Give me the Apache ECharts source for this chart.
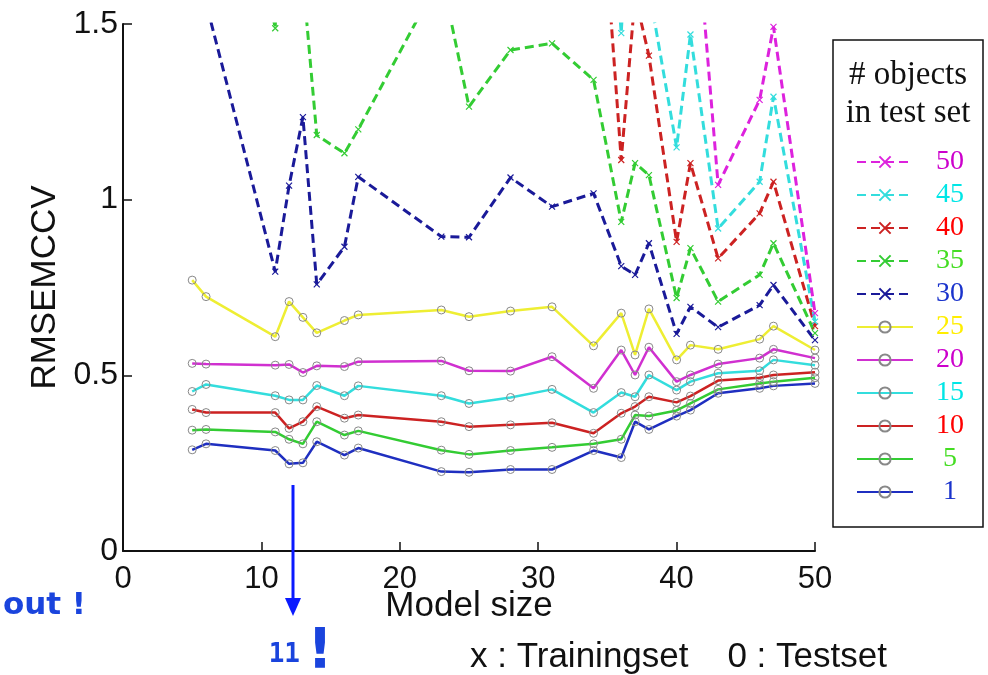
<!DOCTYPE html>
<html><head><meta charset="utf-8">
<script src="https://cdn.jsdelivr.net/npm/echarts@6/dist/echarts.min.js"></script>
<style>html,body{margin:0;padding:0;background:#fff}#c{width:988px;height:675px}</style>
</head><body><div id="c"></div>
<script>
// x: model size
const modelSize = [5,6,11,12,13,14,16,17,23,25,28,31,34,36,37,38,40,41,43,46,47,50];
// Testset curves (solid, circles)
const test1  = [0.288,0.305,0.286,0.248,0.251,0.311,0.273,0.293,0.226,0.224,0.232,0.232,0.286,0.266,0.368,0.346,0.384,0.401,0.449,0.463,0.470,0.477];
const test5  = [0.344,0.346,0.339,0.318,0.305,0.368,0.330,0.342,0.287,0.275,0.286,0.295,0.305,0.318,0.387,0.384,0.400,0.420,0.460,0.477,0.482,0.493];
const test10 = [0.403,0.394,0.394,0.349,0.368,0.411,0.378,0.387,0.368,0.354,0.359,0.365,0.335,0.392,0.411,0.439,0.423,0.441,0.485,0.493,0.501,0.509];
const test15 = [0.454,0.474,0.442,0.430,0.430,0.471,0.442,0.470,0.442,0.420,0.437,0.460,0.394,0.451,0.439,0.501,0.458,0.482,0.506,0.513,0.544,0.529];
const test20 = [0.534,0.532,0.529,0.531,0.508,0.527,0.525,0.539,0.541,0.513,0.512,0.553,0.463,0.572,0.501,0.580,0.482,0.501,0.532,0.549,0.574,0.549];
const test25 = [0.771,0.724,0.610,0.710,0.665,0.621,0.656,0.672,0.686,0.667,0.683,0.695,0.584,0.677,0.558,0.689,0.544,0.586,0.574,0.603,0.640,0.572];
// Trainingset curves (dashed, crosses); values above 1.5 run off the top of the plot
const train30 = [1.90,1.56,0.795,1.04,1.235,0.759,0.866,1.065,0.895,0.893,1.063,0.980,1.018,0.811,0.786,0.876,0.618,0.695,0.637,0.700,0.757,0.600];
const train35 = [null,2.50,1.488,3.00,1.63,1.184,1.132,1.20,1.64,1.265,1.426,1.445,1.341,0.937,1.104,1.070,0.720,0.862,0.710,0.786,0.876,0.620];
const train40 = [null,null,null,null,null,null,null,null,null,null,null,null,2.20,1.113,1.58,1.41,0.880,1.104,0.833,0.961,1.051,0.640];
const train45 = [null,null,null,null,null,null,null,null,null,null,null,null,2.50,1.474,2.20,1.60,1.149,1.470,0.918,1.051,1.293,0.653];
const train50 = [null,null,null,null,null,null,null,null,null,null,null,null,null,null,null,null,null,2.00,1.042,1.284,1.492,0.677];
// legend
const legendNames = ['50','45','40','35','30','25','20','15','10','5','1'];
const legendTextColors = {'50':'#cc00cc','45':'#00e6e6','40':'#ff0000','35':'#44dd22','30':'#1a33cc','25':'#ffee00','20':'#cc00cc','15':'#00e6e6','10':'#ff0000','5':'#44dd22','1':'#1a33cc'};
const xTicks = [0,10,20,30,40,50];
const yTicks = [0,0.5,1,1.5];

const solidDefs = [
  {name:'1', data:test1, color:'#1f2fc0'},
  {name:'5', data:test5, color:'#33cc33'},
  {name:'10', data:test10, color:'#cc2222'},
  {name:'15', data:test15, color:'#33dddd'},
  {name:'20', data:test20, color:'#d030d0'},
  {name:'25', data:test25, color:'#eeee33'}
];
const dashDefs = [
  {name:'30', data:train30, color:'#1a1a99'},
  {name:'35', data:train35, color:'#33cc33'},
  {name:'40', data:train40, color:'#cc2222'},
  {name:'45', data:train45, color:'#33dddd'},
  {name:'50', data:train50, color:'#dd22dd'}
];
const toPairs = arr => modelSize.map((x,i)=>[x, arr[i]]);
const series = [];
solidDefs.forEach(d=>series.push({
  name:d.name, type:'line', data:toPairs(d.data), color:d.color,
  symbol:'circle', symbolSize:8, showAllSymbol:true,
  lineStyle:{color:d.color, width:2.5, type:'solid'},
  itemStyle:{color:'rgba(0,0,0,0)', borderColor:'#888', borderWidth:1},
  emphasis:{disabled:true}, clip:true, z:2
}));
dashDefs.forEach(d=>series.push({
  name:d.name, type:'line', data:toPairs(d.data), color:d.color,
  symbol:'path://M0,0L10,10M10,0L0,10', symbolSize:6, showAllSymbol:true,
  lineStyle:{color:d.color, width:3, type:[9,5]},
  itemStyle:{color:'rgba(0,0,0,0)', borderColor:d.color, borderWidth:1.2},
  emphasis:{disabled:true}, clip:true, connectNulls:false, z:3
}));

const chart = echarts.init(document.getElementById('c'), null, {renderer:'canvas'});
chart.setOption({
  animation:false,
  backgroundColor:'#fff',
  grid:{left:123, right:173, top:24, bottom:124, containLabel:false},
  xAxis:{type:'value', min:xTicks[0], max:xTicks[xTicks.length-1], interval:10,
    name:'Model size', nameLocation:'middle', nameGap:38, nameMoveOverlap:false,
    nameTextStyle:{fontFamily:'Liberation Sans, Arial, sans-serif', fontSize:35, color:'#111'},
    axisLine:{lineStyle:{color:'#111', width:2}},
    axisTick:{inside:true, length:9, lineStyle:{color:'#111', width:1.5}},
    axisLabel:{fontFamily:'Liberation Sans, Arial, sans-serif', fontSize:31, color:'#111', margin:13},
    splitLine:{show:false}},
  yAxis:{type:'value', min:yTicks[0], max:yTicks[yTicks.length-1], interval:0.5,
    name:'RMSEMCCV', nameLocation:'middle', nameGap:60, nameRotate:90,
    nameTextStyle:{fontFamily:'Liberation Sans, Arial, sans-serif', fontSize:35, color:'#111'},
    axisLine:{show:true, lineStyle:{color:'#111', width:2}},
    axisTick:{show:true, inside:true, length:9, lineStyle:{color:'#111', width:1.5}},
    axisLabel:{fontFamily:'Liberation Sans, Arial, sans-serif', fontSize:32, color:'#111', margin:5},
    splitLine:{show:false}},
  legend:{
    orient:'vertical', left:851, top:143, itemWidth:56, itemHeight:14, itemGap:5,
    data:legendNames.map(n=>({name:n, textStyle:{color:legendTextColors[n]}})),
    formatter:'{a|{name}}',
    textStyle:{fontFamily:'Liberation Serif, Times New Roman, serif', fontSize:28, lineHeight:24,
      rich:{a:{width:64, align:'center', fontFamily:'Liberation Serif, Times New Roman, serif', fontSize:28, lineHeight:24}}},
    selectedMode:false, inactiveColor:'#ccc'
  },
  graphic:[
    {type:'rect', shape:{x:833, y:40, width:150, height:487}, style:{fill:'none', stroke:'#111', lineWidth:1.5}, z:10},
    {type:'text', x:908, y:75, style:{text:'# objects', fontFamily:'Liberation Serif, Times New Roman, serif', fontSize:33, fill:'#111', textAlign:'center', textVerticalAlign:'middle'}, z:10},
    {type:'text', x:908, y:113, style:{text:'in test set', fontFamily:'Liberation Serif, Times New Roman, serif', fontSize:33, fill:'#111', textAlign:'center', textVerticalAlign:'middle'}, z:10},
    {type:'rect', shape:{x:360, y:620, width:220, height:14}, style:{fill:'#fff'}, z:9},
    {type:'text', x:470, y:657, style:{text:'x : Trainingset    0 : Testset', fontFamily:'Liberation Sans, Arial, sans-serif', fontSize:35, fill:'#111', textAlign:'left', textVerticalAlign:'middle'}, z:10},
    {type:'text', x:86, y:606, style:{text:'out !', fontFamily:'DejaVu Sans, sans-serif', fontWeight:'bold', fontSize:31, fill:'#1a44dd', textAlign:'right', textVerticalAlign:'middle'}, z:10},
    {type:'text', x:300, y:655, style:{text:'11', fontFamily:'DejaVu Sans Mono, DejaVu Sans, sans-serif', fontWeight:'bold', fontSize:26, fill:'#1a44dd', textAlign:'right', textVerticalAlign:'middle'}, z:10},
    {type:'text', x:320, y:652, style:{text:'!', fontFamily:'DejaVu Sans, sans-serif', fontWeight:'bold', fontSize:56, fill:'#1a44dd', textAlign:'center', textVerticalAlign:'middle'}, z:10},
    {type:'line', shape:{x1:293, y1:485, x2:293, y2:602}, style:{stroke:'#0a1aff', lineWidth:3}, z:10},
    {type:'polygon', shape:{points:[[285,598],[301,598],[293,616]]}, style:{fill:'#0a1aff'}, z:10},
    {type:'text', x:-14, y:405, style:{text:')', fontFamily:'Liberation Sans, sans-serif', fontSize:40, fill:'#111', textAlign:'left', textVerticalAlign:'middle'}, z:10}
  ],
  series:series
});
</script></body></html>
